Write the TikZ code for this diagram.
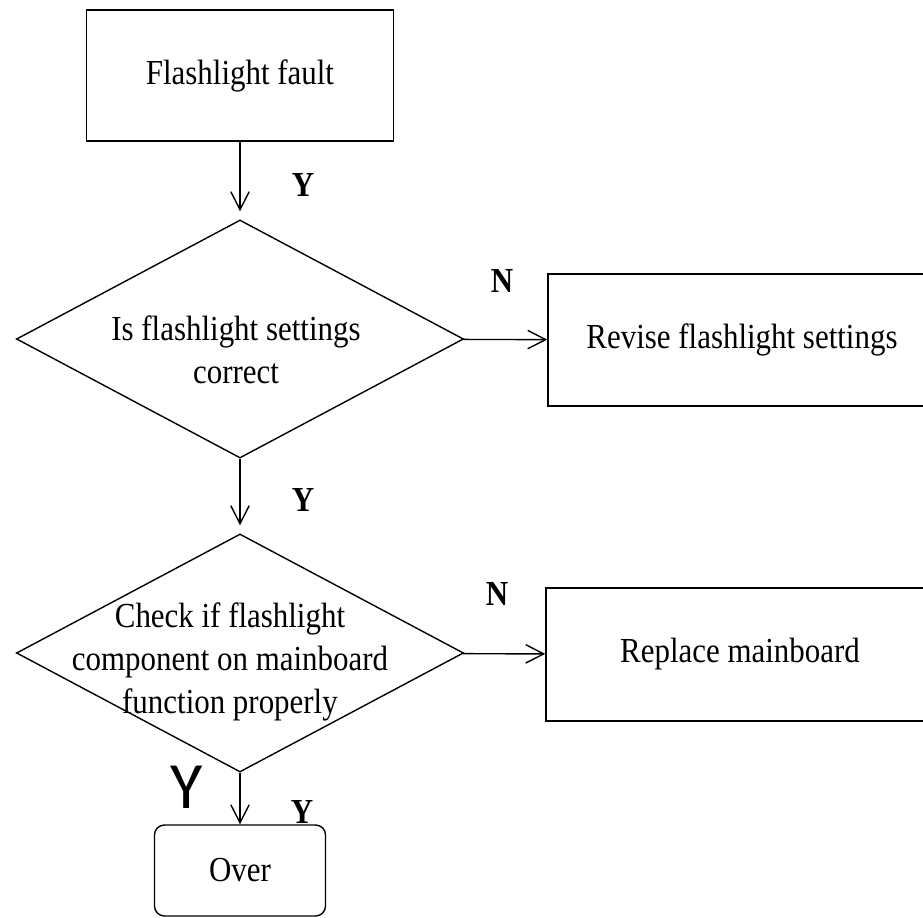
\documentclass[tikz,border=0pt]{standalone}
\usepackage{fontspec}
\setmainfont{Liberation Serif}[FakeStretch=0.88]
\newfontfamily\bigsans{Carlito}
\usetikzlibrary{shapes.geometric,arrows.meta}

\begin{document}
\begin{tikzpicture}[x=0.025cm, y=-0.025cm, line width=1pt,
    font=\fontsize{25}{30.6}\selectfont,
    box/.style = {draw, rectangle, inner sep=0pt},
    decision/.style = {draw, diamond, inner sep=0pt, minimum width=11.175cm, minimum height=5.95cm},
    arr/.style = {-{Straight Barb[length=4.5mm, width=4.6mm]}},
    yn/.style = {font=\fontsize{25}{28}\selectfont\bfseries}]
	\clip (0,0) rectangle (923,918);
	% boxes and decisions
	\node[box, minimum width=7.675cm, minimum height=3.275cm] (fault) at (240,75.5) {Flashlight fault};
	\node[decision] (dec1) at (240,339) {};
	\node[align=center] (t1) at (236,350) {Is flashlight settings\\correct};
	\node[box, minimum width=9.7cm, minimum height=3.3cm] (revise) at (742,340) {Revise flashlight settings};
	\node[decision] (dec2) at (240,653) {};
	\node[align=center] (t2) at (230,662) {Check if flashlight\\component on mainboard\\function properly};
	\node[box, minimum width=9.7cm, minimum height=3.325cm] (replace) at (740,654.5) {Replace mainboard};
	\node[box, rounded corners=0.25cm, minimum width=4.275cm, minimum height=2.275cm] (over) at (240,870.5) {Over};
	% labels
	\node[yn] (y1) at (303,185) {Y};
	\node[yn] (y2) at (303,500) {Y};
	\node[yn] (y3) at (302,812) {Y};
	\node[yn] (n1) at (502,281) {N};
	\node[yn] (n2) at (497,594) {N};
	\node[font=\fontsize{47}{50}\bigsans] (y4) at (187,787) {Y};
	% arrows
	\draw[arr, shorten >=2mm] (fault) -- (dec1);
	\draw[arr, shorten >=2mm] (dec1) -- (dec2);
	\draw[arr] (dec2) -- (over);
	\draw[arr] (dec1) -- (revise);
	\draw[arr] (dec2) -- (replace);
\end{tikzpicture}
\end{document}
